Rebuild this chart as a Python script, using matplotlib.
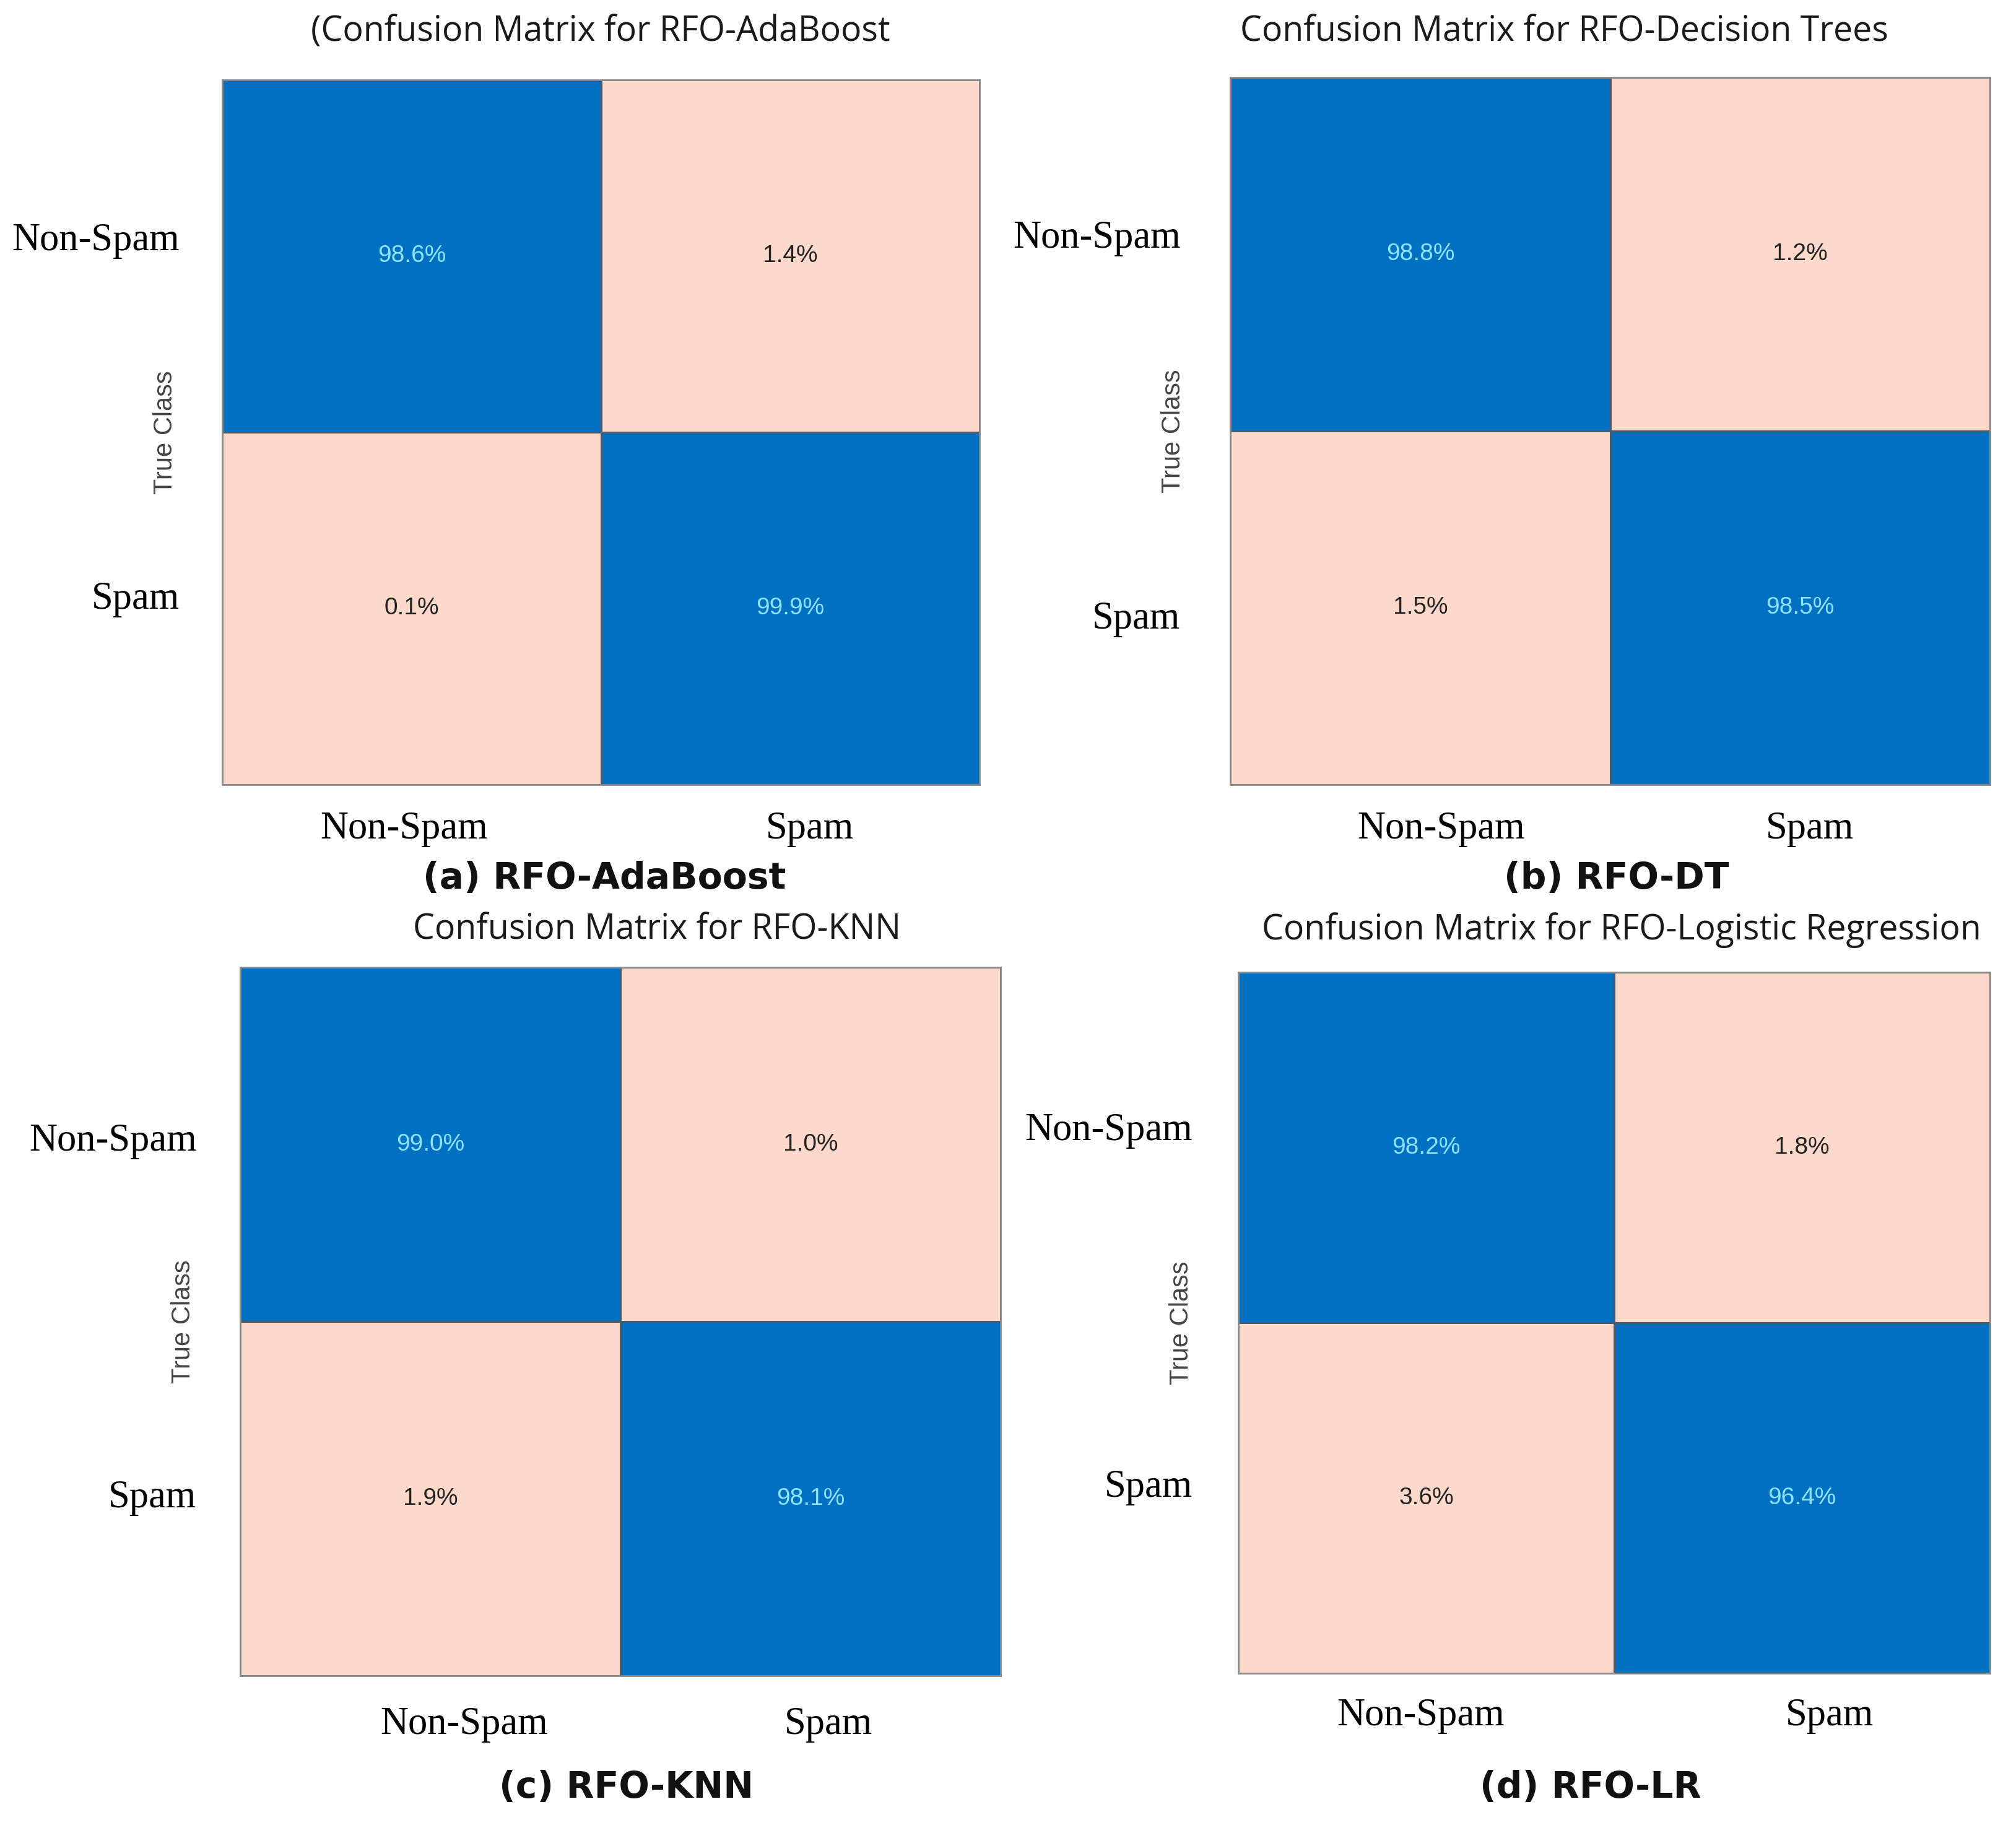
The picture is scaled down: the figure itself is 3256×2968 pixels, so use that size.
import numpy as np
import matplotlib
matplotlib.use("Agg")
import matplotlib.pyplot as plt
from matplotlib.colors import ListedColormap, BoundaryNorm

classes = ["Non-Spam", "Spam"]

titles = ["(Confusion Matrix for RFO-AdaBoost",
          "Confusion Matrix for RFO-Decision Trees",
          "Confusion Matrix for RFO-KNN",
          "Confusion Matrix for RFO-Logistic Regression"]
captions = ["(a) RFO-AdaBoost", "(b) RFO-DT", "(c) RFO-KNN", "(d) RFO-LR"]

cm_ada = [[98.6, 1.4], [0.1, 99.9]]
cm_dt = [[98.8, 1.2], [1.5, 98.5]]
cm_knn = [[99.0, 1.0], [1.9, 98.1]]
cm_lr = [[98.2, 1.8], [3.6, 96.4]]
matrices = [cm_ada, cm_dt, cm_knn, cm_lr]

# layout (figure fractions) for each panel: left, bottom, width, height
boxes = [[0.1103, 0.5731, 0.3757, 0.3835],
         [0.6103, 0.5731, 0.3769, 0.3849],
         [0.1193, 0.0882, 0.3769, 0.3856],
         [0.6142, 0.0896, 0.3730, 0.3814]]
title_xy = [(0.2978, 0.9825), (0.776, 0.9825), (0.3259, 0.494), (0.8042, 0.494)]
cap_xy = [(0.2997, 0.522), (0.8017, 0.522), (0.3106, 0.0273), (0.789, 0.0273)]
xtick_pos = [[-0.021, 1.052], [0.055, 1.026], [0.089, 1.047], [-0.015, 1.073]]
ytick_pos = [[-0.055, 0.963], [-0.056, 1.02], [-0.021, 0.985], [-0.06, 0.957]]
ypads = [50, 58, 51, 53]
xpads = [31, 31, 36, 29]

blue = "#0071C1"
pink = "#FDD9CC"
cmap = ListedColormap([pink, blue])
norm = BoundaryNorm([0, 50, 100], 2)

fig = plt.figure(figsize=(32.56, 29.68), dpi=100)

for i, cm in enumerate(matrices):
    cm = np.array(cm)
    ax = fig.add_axes(boxes[i])
    ax.pcolormesh(np.arange(3) - 0.5, np.arange(3) - 0.5, cm, cmap=cmap, norm=norm,
                  edgecolor="#4f5a66", linewidth=2)
    ax.set_xlim(-0.5, 1.5)
    ax.set_ylim(1.5, -0.5)
    for r in range(2):
        for c in range(2):
            col = "#8FE3FF" if cm[r, c] > 50 else "#222222"
            ax.text(c, r, "%.1f%%" % cm[r, c], ha="center", va="center",
                    fontsize=28, color=col, family="Liberation Sans")
    ax.set_xticks(xtick_pos[i])
    ax.set_xticklabels(classes, family="Liberation Serif", fontsize=45)
    ax.set_yticks(ytick_pos[i])
    ax.set_yticklabels(classes, family="Liberation Serif", fontsize=45)
    ax.tick_params(axis="x", length=0, pad=xpads[i])
    ax.tick_params(axis="y", length=0, pad=ypads[i])
    ax.set_ylabel("True Class", fontsize=30, color="#444444", family="Liberation Sans")
    ax.yaxis.set_label_coords(-0.059, 0.5)
    for s in ax.spines.values():
        s.set_color("#8a8a8a")
        s.set_linewidth(2)

    fig.text(title_xy[i][0], title_xy[i][1], titles[i], ha="center", va="center",
             fontsize=40, family="Open Sans", color="#1a1a1a")
    fig.text(cap_xy[i][0], cap_xy[i][1], captions[i], ha="center", va="center",
             fontsize=42, family="DejaVu Sans", weight="bold", color="#111111")

fig.savefig("out.png", dpi=100, facecolor="white")
